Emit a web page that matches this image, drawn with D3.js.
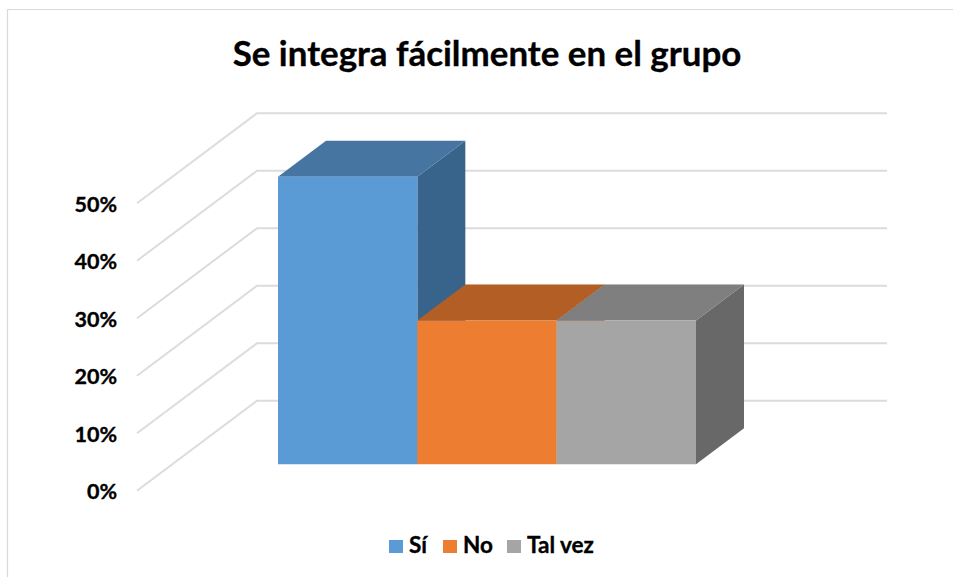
<!DOCTYPE html>
<html>
<head>
<meta charset="utf-8">
<script src="https://cdn.jsdelivr.net/npm/d3@7"></script>
<style>
  html, body { margin: 0; padding: 0; background: #fff; }
  svg { display: block; }
  text { font-family: Lato, "Noto Sans", sans-serif; font-weight: 700; fill: #000; stroke: #000; stroke-width: 0.35; }
</style>
</head>
<body>
<svg id="chart" width="953" height="577"></svg>
<script>
const titleText = "Se integra fácilmente en el grupo";
const categories = ["Sí", "No", "Tal vez"];
const values = [50, 25, 25];
const tickValues = [0, 10, 20, 30, 40, 50];
const faceColors = ["#5b9bd5", "#ed7d31", "#a5a5a5"];
const topColors = ["#4675a1", "#b25e24", "#7f7f7f"];
const sideColors = ["#38648c", "#99511f", "#686868"];

const width = 953, height = 577;
const svg = d3.select("#chart");

// y is measured on the back wall, x on the back wall too
const y = d3.scaleLinear().domain([0, 50]).range([400.7, 113.2]);
const x = d3.scaleBand().domain(categories).range([362.6, 780.6]);
// depth 0 = back wall, 1 = front edge of the floor
const depthX = d3.scaleLinear().domain([0, 1]).range([0, -120]);
const depthY = d3.scaleLinear().domain([0, 1]).range([0, 90]);
const wallLeft = 257, wallRight = 887;
const barFront = 0.705, barBack = 0.305;

function pt(px, v, depth) {
  return [px + depthX(depth), y(v) + depthY(depth)];
}
const poly = pts => "M" + pts.map(p => p.join(",")).join("L") + "Z";

// chart frame, only top and left show in the crop
svg.append("path")
  .attr("d", `M7.5,${height}V9.5H${width}`)
  .attr("fill", "none")
  .attr("stroke", "#d9d9d9")
  .attr("stroke-width", 1.2);

svg.append("text")
  .attr("x", 487)
  .attr("y", 66)
  .attr("text-anchor", "middle")
  .attr("font-size", 34.9)
  .text(titleText);

// gridlines: wall + floor side
const grid = svg.append("g")
  .attr("fill", "none")
  .attr("stroke", "#dcdcdc")
  .attr("stroke-width", 2);

grid.selectAll("path")
  .data(tickValues)
  .join("path")
  .attr("d", d => {
    const a = pt(wallLeft, d, 1), b = pt(wallLeft, d, 0);
    return `M${a}L${b}H${wallRight}`;
  });

// tick labels
svg.append("g")
  .selectAll("text")
  .data(tickValues)
  .join("text")
  .attr("x", 117)
  .attr("y", d => pt(wallLeft, d, 1)[1] + 1)
  .attr("dy", "0.35em")
  .attr("text-anchor", "end")
  .attr("font-size", 21.5)
  .text(d => d + "%");

// bars
const bars = svg.append("g")
  .selectAll("g")
  .data(categories)
  .join("g");

bars.append("path")
  .attr("fill", (d, i) => sideColors[i])
  .attr("d", (d, i) => {
    const r = x(d) + x.bandwidth();
    return poly([pt(r, 0, barFront), pt(r, 0, barBack), pt(r, values[i], barBack), pt(r, values[i], barFront)]);
  });

bars.append("path")
  .attr("fill", (d, i) => topColors[i])
  .attr("d", (d, i) => {
    const l = x(d), r = l + x.bandwidth();
    return poly([pt(l, values[i], barFront), pt(l, values[i], barBack), pt(r, values[i], barBack), pt(r, values[i], barFront)]);
  });

bars.append("path")
  .attr("fill", (d, i) => faceColors[i])
  .attr("d", (d, i) => {
    const l = x(d), r = l + x.bandwidth();
    return poly([pt(l, 0, barFront), pt(l, values[i], barFront), pt(r, values[i], barFront), pt(r, 0, barFront)]);
  });

// legend
const legendX = [389, 443, 507];
const legend = svg.append("g")
  .selectAll("g")
  .data(categories)
  .join("g")
  .attr("transform", (d, i) => `translate(${legendX[i]},540)`);

legend.append("rect")
  .attr("width", 14)
  .attr("height", 13)
  .attr("fill", (d, i) => faceColors[i]);

legend.append("text")
  .attr("x", 20)
  .attr("y", 13)
  .attr("font-size", 22.5)
  .text(d => d);
</script>
</body>
</html>
